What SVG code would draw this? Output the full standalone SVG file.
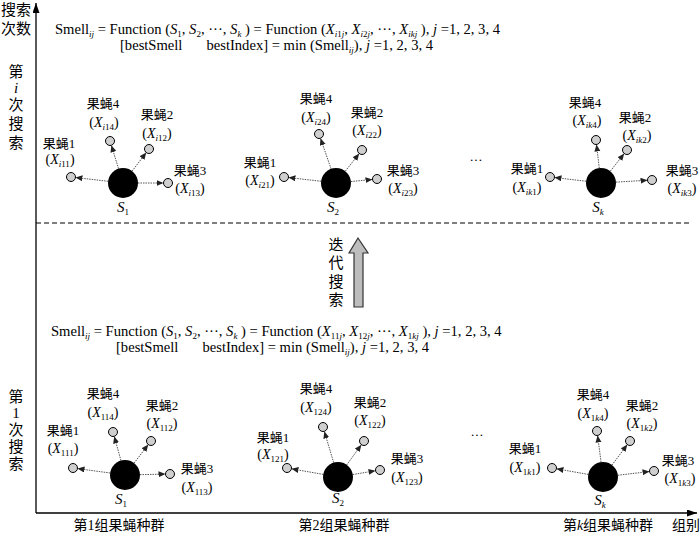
<svg xmlns="http://www.w3.org/2000/svg" width="700" height="536" viewBox="0 0 700 536">
<style>
.t{font-family:"Liberation Serif","Noto Sans CJK SC",serif;fill:#000}
.f{font-size:14.6px}
.lb{font-size:13px;text-anchor:middle}
.xl{font-size:14px;text-anchor:middle}
.sl{font-size:15px;text-anchor:middle}
.cn{font-size:15px;text-anchor:middle}
.ax{font-size:14px}
.it{font-style:italic}
.sb{font-size:9px}
.big{fill:#000}
.fly{fill:#cfcfcf;stroke:#000;stroke-width:1}
.con{stroke:#555;stroke-width:1;stroke-dasharray:1.5 1;fill:none;marker-end:url(#ah)}
.axis{stroke:#000;stroke-width:1.3;fill:none;marker-end:url(#ax)}
</style>
<defs>
<marker id="ah" markerWidth="12" markerHeight="8" refX="11.5" refY="3" orient="auto" markerUnits="userSpaceOnUse"><path d="M0,0 L7,3 L0,6 z" fill="#222"/></marker>
<marker id="ax" markerWidth="12" markerHeight="8" refX="10" refY="3.5" orient="auto" markerUnits="userSpaceOnUse"><path d="M0,0 L10,3.5 L0,7 z" fill="#000"/></marker>
</defs>
<rect width="700" height="536" fill="#fff"/>

<g id="axes">
<line class="axis" x1="36" y1="513" x2="36" y2="3"/>
<line class="axis" x1="36" y1="513" x2="697" y2="513"/>
<line x1="36" y1="223" x2="690" y2="223" stroke="#000" stroke-width="1" stroke-dasharray="5 3"/>
</g>

<g id="axis-labels" class="t">
<text class="cn" x="16" y="15">搜索</text>
<text class="cn" x="16" y="34">次数</text>
<text class="cn" x="16" y="77">第</text>
<text class="cn it" x="16" y="93">i</text>
<text class="cn" x="16" y="110">次</text>
<text class="cn" x="16" y="129">搜</text>
<text class="cn" x="16" y="148">索</text>
<text class="cn" x="16" y="402">第</text>
<text class="cn" x="16" y="418">1</text>
<text class="cn" x="16" y="435">次</text>
<text class="cn" x="16" y="452">搜</text>
<text class="cn" x="16" y="469">索</text>
<text class="ax" x="119" y="530" text-anchor="middle">第1组果蝇种群</text>
<text class="ax" x="344" y="530" text-anchor="middle">第2组果蝇种群</text>
<text class="ax" x="608" y="530" text-anchor="middle">第<tspan class="it">k</tspan>组果蝇种群</text>
<text class="ax" x="686" y="530" text-anchor="middle">组别</text>
</g>

<g id="formula-i" class="t f">
<text x="55" y="34">Smell<tspan class="sb it" dy="3">ij</tspan><tspan dy="-3"> = Function (</tspan><tspan class="it">S</tspan><tspan class="sb" dy="3">1</tspan><tspan dy="-3">, </tspan><tspan class="it">S</tspan><tspan class="sb" dy="3">2</tspan><tspan dy="-3">, ···, </tspan><tspan class="it">S</tspan><tspan class="sb it" dy="3">k</tspan><tspan dy="-3"> ) = Function (</tspan><tspan class="it">X</tspan><tspan class="sb it" dy="3">i</tspan><tspan class="sb">1</tspan><tspan class="sb it">j</tspan><tspan dy="-3">, </tspan><tspan class="it">X</tspan><tspan class="sb it" dy="3">i</tspan><tspan class="sb">2</tspan><tspan class="sb it">j</tspan><tspan dy="-3">, ···, </tspan><tspan class="it">X</tspan><tspan class="sb it" dy="3">ikj</tspan><tspan dy="-3"> ), </tspan><tspan class="it">j</tspan> =1, 2, 3, 4</text>
<text x="120" y="50">[bestSmell<tspan dx="24">bestIndex] = min (Smell</tspan><tspan class="sb it" dy="3">ij</tspan><tspan dy="-3">), </tspan><tspan class="it">j</tspan> =1, 2, 3, 4</text>
</g>

<g id="formula-1" class="t f">
<text x="51" y="336">Smell<tspan class="sb it" dy="3">ij</tspan><tspan dy="-3"> = Function (</tspan><tspan class="it">S</tspan><tspan class="sb" dy="3">1</tspan><tspan dy="-3">, </tspan><tspan class="it">S</tspan><tspan class="sb" dy="3">2</tspan><tspan dy="-3">, ···, </tspan><tspan class="it">S</tspan><tspan class="sb it" dy="3">k</tspan><tspan dy="-3"> ) = Function (</tspan><tspan class="it">X</tspan><tspan class="sb" dy="3">11</tspan><tspan class="sb it">j</tspan><tspan dy="-3">, </tspan><tspan class="it">X</tspan><tspan class="sb" dy="3">12</tspan><tspan class="sb it">j</tspan><tspan dy="-3">, ···, </tspan><tspan class="it">X</tspan><tspan class="sb" dy="3">1</tspan><tspan class="sb it">kj</tspan><tspan dy="-3"> ), </tspan><tspan class="it">j</tspan> =1, 2, 3, 4</text>
<text x="116" y="352">[bestSmell<tspan dx="24">bestIndex] = min (Smell</tspan><tspan class="sb it" dy="3">ij</tspan><tspan dy="-3">), </tspan><tspan class="it">j</tspan> =1, 2, 3, 4</text>
</g>

<g id="iterate">
<polygon points="358,238 349,253 354,253 354,307 363,307 363,253 368,253" fill="#bdbdbd" stroke="#333" stroke-width="1.2"/>
<text x="336" y="250" class="t cn">迭</text>
<text x="336" y="268" class="t cn">代</text>
<text x="336" y="287" class="t cn">搜</text>
<text x="336" y="305" class="t cn">索</text>
</g>

<g id="connectors">
<line class="con" x1="123" y1="183" x2="71" y2="177"/>
<line class="con" x1="123" y1="183" x2="110" y2="141"/>
<line class="con" x1="123" y1="183" x2="149" y2="149"/>
<line class="con" x1="123" y1="183" x2="168" y2="183"/>
<line class="con" x1="336" y1="183" x2="284" y2="177"/>
<line class="con" x1="336" y1="183" x2="319" y2="134"/>
<line class="con" x1="336" y1="183" x2="362" y2="150"/>
<line class="con" x1="336" y1="183" x2="377" y2="179"/>
<line class="con" x1="601" y1="183" x2="550" y2="177"/>
<line class="con" x1="601" y1="183" x2="596" y2="140"/>
<line class="con" x1="601" y1="183" x2="627" y2="150"/>
<line class="con" x1="601" y1="183" x2="652" y2="180"/>
<line class="con" x1="125" y1="475" x2="73" y2="468"/>
<line class="con" x1="125" y1="475" x2="113" y2="432"/>
<line class="con" x1="125" y1="475" x2="151" y2="441"/>
<line class="con" x1="125" y1="475" x2="170" y2="474"/>
<line class="con" x1="338" y1="477" x2="287" y2="468"/>
<line class="con" x1="338" y1="477" x2="323" y2="427"/>
<line class="con" x1="338" y1="477" x2="364" y2="441"/>
<line class="con" x1="338" y1="477" x2="380" y2="470"/>
<line class="con" x1="603" y1="477" x2="552" y2="468"/>
<line class="con" x1="603" y1="477" x2="597" y2="431"/>
<line class="con" x1="603" y1="477" x2="630" y2="441"/>
<line class="con" x1="603" y1="477" x2="654" y2="471"/>
</g>

<g id="pop-i-1" class="t">
<circle class="big" cx="123" cy="183" r="15"/>
<text class="sl" x="123" y="212"><tspan class="it">S</tspan><tspan class="sb" dy="3">1</tspan></text>
<circle class="fly" cx="71" cy="177" r="4.5"/><text class="lb" x="59" y="148">果蝇1</text><text class="xl" x="60" y="164">(<tspan class="it">X</tspan><tspan class="sb it" dy="3">i</tspan><tspan class="sb">11</tspan><tspan dy="-3">)</tspan></text>
<circle class="fly" cx="110" cy="141" r="4.5"/><text class="lb" x="103" y="108">果蝇4</text><text class="xl" x="104" y="127">(<tspan class="it">X</tspan><tspan class="sb it" dy="3">i</tspan><tspan class="sb">14</tspan><tspan dy="-3">)</tspan></text>
<circle class="fly" cx="149" cy="149" r="4.5"/><text class="lb" x="157" y="119">果蝇2</text><text class="xl" x="157" y="138">(<tspan class="it">X</tspan><tspan class="sb it" dy="3">i</tspan><tspan class="sb">12</tspan><tspan dy="-3">)</tspan></text>
<circle class="fly" cx="168" cy="183" r="4.5"/><text class="lb" x="190" y="175">果蝇3</text><text class="xl" x="190" y="193">(<tspan class="it">X</tspan><tspan class="sb it" dy="3">i</tspan><tspan class="sb">13</tspan><tspan dy="-3">)</tspan></text>
</g>

<g id="pop-i-2" class="t">
<circle class="big" cx="336" cy="183" r="15"/>
<text class="sl" x="333" y="212"><tspan class="it">S</tspan><tspan class="sb" dy="3">2</tspan></text>
<circle class="fly" cx="284" cy="177" r="4.5"/><text class="lb" x="260" y="167">果蝇1</text><text class="xl" x="260" y="185">(<tspan class="it">X</tspan><tspan class="sb it" dy="3">i</tspan><tspan class="sb">21</tspan><tspan dy="-3">)</tspan></text>
<circle class="fly" cx="319" cy="134" r="4.5"/><text class="lb" x="316" y="103">果蝇4</text><text class="xl" x="316" y="122">(<tspan class="it">X</tspan><tspan class="sb it" dy="3">i</tspan><tspan class="sb">24</tspan><tspan dy="-3">)</tspan></text>
<circle class="fly" cx="362" cy="150" r="4.5"/><text class="lb" x="367" y="117">果蝇2</text><text class="xl" x="367" y="135">(<tspan class="it">X</tspan><tspan class="sb it" dy="3">i</tspan><tspan class="sb">22</tspan><tspan dy="-3">)</tspan></text>
<circle class="fly" cx="377" cy="179" r="4.5"/><text class="lb" x="403" y="175">果蝇3</text><text class="xl" x="403" y="193">(<tspan class="it">X</tspan><tspan class="sb it" dy="3">i</tspan><tspan class="sb">23</tspan><tspan dy="-3">)</tspan></text>
</g>

<g id="pop-i-k" class="t">
<circle class="big" cx="601" cy="183" r="15"/>
<text class="sl" x="598" y="212"><tspan class="it">S</tspan><tspan class="sb it" dy="3">k</tspan></text>
<text class="lb" x="476" y="164">···</text>
<circle class="fly" cx="550" cy="177" r="4.5"/><text class="lb" x="527" y="173">果蝇1</text><text class="xl" x="527" y="192">(<tspan class="it">X</tspan><tspan class="sb it" dy="3">ik</tspan><tspan class="sb">1</tspan><tspan dy="-3">)</tspan></text>
<circle class="fly" cx="596" cy="140" r="4.5"/><text class="lb" x="585" y="107">果蝇4</text><text class="xl" x="587" y="125">(<tspan class="it">X</tspan><tspan class="sb it" dy="3">ik</tspan><tspan class="sb">4</tspan><tspan dy="-3">)</tspan></text>
<circle class="fly" cx="627" cy="150" r="4.5"/><text class="lb" x="635" y="122">果蝇2</text><text class="xl" x="637" y="140">(<tspan class="it">X</tspan><tspan class="sb it" dy="3">ik</tspan><tspan class="sb">2</tspan><tspan dy="-3">)</tspan></text>
<circle class="fly" cx="652" cy="180" r="4.5"/><text class="lb" x="682" y="175">果蝇3</text><text class="xl" x="682" y="193">(<tspan class="it">X</tspan><tspan class="sb it" dy="3">ik</tspan><tspan class="sb">3</tspan><tspan dy="-3">)</tspan></text>
</g>

<g id="pop-1-1" class="t">
<circle class="big" cx="125" cy="475" r="15"/>
<text class="sl" x="121" y="504"><tspan class="it">S</tspan><tspan class="sb" dy="3">1</tspan></text>
<circle class="fly" cx="73" cy="468" r="4.5"/><text class="lb" x="63" y="435">果蝇1</text><text class="xl" x="63" y="453">(<tspan class="it">X</tspan><tspan class="sb" dy="3">111</tspan><tspan dy="-3">)</tspan></text>
<circle class="fly" cx="113" cy="432" r="4.5"/><text class="lb" x="103" y="398">果蝇4</text><text class="xl" x="103" y="417">(<tspan class="it">X</tspan><tspan class="sb" dy="3">114</tspan><tspan dy="-3">)</tspan></text>
<circle class="fly" cx="151" cy="441" r="4.5"/><text class="lb" x="162" y="410">果蝇2</text><text class="xl" x="162" y="428">(<tspan class="it">X</tspan><tspan class="sb" dy="3">112</tspan><tspan dy="-3">)</tspan></text>
<circle class="fly" cx="170" cy="474" r="4.5"/><text class="lb" x="197" y="473">果蝇3</text><text class="xl" x="197" y="492">(<tspan class="it">X</tspan><tspan class="sb" dy="3">113</tspan><tspan dy="-3">)</tspan></text>
</g>

<g id="pop-1-2" class="t">
<circle class="big" cx="338" cy="477" r="15"/>
<text class="sl" x="338" y="503"><tspan class="it">S</tspan><tspan class="sb" dy="3">2</tspan></text>
<circle class="fly" cx="287" cy="468" r="4.5"/><text class="lb" x="273" y="442">果蝇1</text><text class="xl" x="273" y="459">(<tspan class="it">X</tspan><tspan class="sb" dy="3">121</tspan><tspan dy="-3">)</tspan></text>
<circle class="fly" cx="323" cy="427" r="4.5"/><text class="lb" x="316" y="393">果蝇4</text><text class="xl" x="316" y="412">(<tspan class="it">X</tspan><tspan class="sb" dy="3">124</tspan><tspan dy="-3">)</tspan></text>
<circle class="fly" cx="364" cy="441" r="4.5"/><text class="lb" x="370" y="407">果蝇2</text><text class="xl" x="370" y="425">(<tspan class="it">X</tspan><tspan class="sb" dy="3">122</tspan><tspan dy="-3">)</tspan></text>
<circle class="fly" cx="380" cy="470" r="4.5"/><text class="lb" x="407" y="463">果蝇3</text><text class="xl" x="407" y="482">(<tspan class="it">X</tspan><tspan class="sb" dy="3">123</tspan><tspan dy="-3">)</tspan></text>
</g>

<g id="pop-1-k" class="t">
<circle class="big" cx="603" cy="477" r="15"/>
<text class="sl" x="600" y="505"><tspan class="it">S</tspan><tspan class="sb it" dy="3">k</tspan></text>
<text class="lb" x="477" y="439">···</text>
<circle class="fly" cx="552" cy="468" r="4.5"/><text class="lb" x="525" y="453">果蝇1</text><text class="xl" x="525" y="472">(<tspan class="it">X</tspan><tspan class="sb" dy="3">1</tspan><tspan class="sb it">k</tspan><tspan class="sb">1</tspan><tspan dy="-3">)</tspan></text>
<circle class="fly" cx="597" cy="431" r="4.5"/><text class="lb" x="593" y="399">果蝇4</text><text class="xl" x="593" y="418">(<tspan class="it">X</tspan><tspan class="sb" dy="3">1</tspan><tspan class="sb it">k</tspan><tspan class="sb">4</tspan><tspan dy="-3">)</tspan></text>
<circle class="fly" cx="630" cy="441" r="4.5"/><text class="lb" x="642" y="410">果蝇2</text><text class="xl" x="642" y="428">(<tspan class="it">X</tspan><tspan class="sb" dy="3">1</tspan><tspan class="sb it">k</tspan><tspan class="sb">2</tspan><tspan dy="-3">)</tspan></text>
<circle class="fly" cx="654" cy="471" r="4.5"/><text class="lb" x="678" y="465">果蝇3</text><text class="xl" x="680" y="483">(<tspan class="it">X</tspan><tspan class="sb" dy="3">1</tspan><tspan class="sb it">k</tspan><tspan class="sb">3</tspan><tspan dy="-3">)</tspan></text>
</g>
</svg>
